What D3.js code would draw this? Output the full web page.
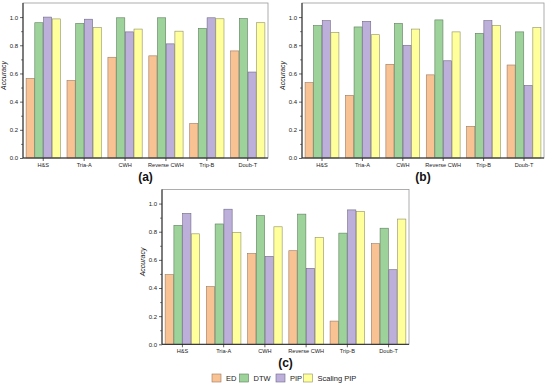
<!doctype html>
<html>
<head>
<meta charset="utf-8">
<script src="https://d3js.org/d3.v7.min.js"></script>
<style>
  body { margin: 0; background: #fff; }
  svg { display: block; font-family: 'Liberation Sans', Arial, sans-serif; }
</style>
</head>
<body>
<svg width="550" height="387"></svg>
<script>
  // categories and series
  var categories = ['H&S', 'Tria-A', 'CWH', 'Reverse CWH', 'Trip-B', 'Doub-T'];
  var methods = ['ED', 'DTW', 'PIP', 'Scaling PIP'];
  var yTicks = [0.0, 0.2, 0.4, 0.6, 0.8, 1.0];

  // panel (a)
  var edA = [0.565, 0.55, 0.715, 0.725, 0.245, 0.76];
  var dtwA = [0.96, 0.955, 0.995, 0.995, 0.92, 0.99];
  var pipA = [1.0, 0.985, 0.895, 0.81, 0.995, 0.61];
  var spA = [0.987, 0.925, 0.915, 0.90, 0.988, 0.96];

  // panel (b)
  var edB = [0.535, 0.445, 0.665, 0.59, 0.225, 0.66];
  var dtwB = [0.94, 0.93, 0.955, 0.98, 0.885, 0.895];
  var pipB = [0.975, 0.97, 0.80, 0.69, 0.975, 0.515];
  var spB = [0.89, 0.875, 0.915, 0.895, 0.94, 0.925];

  // panel (c)
  var edC = [0.495, 0.41, 0.645, 0.665, 0.165, 0.715];
  var dtwC = [0.845, 0.855, 0.915, 0.925, 0.79, 0.825];
  var pipC = [0.93, 0.96, 0.625, 0.54, 0.955, 0.53];
  var spC = [0.785, 0.795, 0.835, 0.76, 0.945, 0.89];

  var fills = {'ED': '#f9c293', 'DTW': '#9dd39b', 'PIP': '#bcb0da', 'Scaling PIP': '#ffff9c'};
  var strokes = {'ED': '#9a7a62', 'DTW': '#5f7d5e', 'PIP': '#6f6885', 'Scaling PIP': '#8f8f62'};

  var svg = d3.select('svg');

  function drawPanel(box, series, label) {
    var w = box.right - box.left,
        h = box.bottom - box.top;
    var g = svg.append('g').attr('transform', 'translate(' + box.left + ',' + box.top + ')');

    var x = d3.scaleBand().domain(categories).range([0, w]).paddingInner(0.15).paddingOuter(0.07);
    var xm = d3.scaleBand().domain(methods).range([0, x.bandwidth()]);
    var y = d3.scaleLinear().domain([0, 1.1]).range([h, 0]);

    var rows = categories.map(function(c, i) {
      return {cat: c, vals: methods.map(function(m, j) { return {m: m, v: series[j][i]}; })};
    });

    g.selectAll('.grp')
      .data(rows)
      .enter().append('g')
      .attr('transform', function(d) { return 'translate(' + x(d.cat) + ',0)'; })
      .selectAll('rect')
      .data(function(d) { return d.vals; })
      .enter().append('rect')
      .attr('x', function(d) { return xm(d.m) + 0.25; })
      .attr('y', function(d) { return y(d.v); })
      .attr('width', xm.bandwidth() - 0.5)
      .attr('height', function(d) { return h - y(d.v); })
      .attr('fill', function(d) { return fills[d.m]; })
      .attr('stroke', function(d) { return strokes[d.m]; })
      .attr('stroke-width', 0.6);

    // frame
    g.append('rect')
      .attr('width', w).attr('height', h)
      .attr('fill', 'none').attr('stroke', '#9a9a9a').attr('stroke-width', 0.8);

    // minor ticks on y
    g.append('g')
      .attr('class', 'minor')
      .call(d3.axisLeft(y).tickValues(d3.range(0.1, 1.1, 0.2)).tickSize(2).tickFormat(''))
      .call(function(a) { a.select('.domain').remove(); a.selectAll('line').attr('stroke', '#333').attr('stroke-width', 0.6); });

    var ya = g.append('g')
      .call(d3.axisLeft(y).tickValues(yTicks).tickSize(3).tickPadding(2).tickFormat(d3.format('.1f')));
    ya.select('.domain').attr('d', 'M0,0V' + h).attr('stroke', '#222').attr('stroke-width', 1);
    ya.selectAll('line').attr('stroke', '#222').attr('stroke-width', 0.7);
    ya.selectAll('text').attr('font-size', 6).attr('fill', '#222');

    var xa = g.append('g')
      .attr('transform', 'translate(0,' + h + ')')
      .call(d3.axisBottom(x).tickSize(3).tickPadding(2));
    xa.select('.domain').attr('d', 'M0,0H' + w).attr('stroke', '#222').attr('stroke-width', 1);
    xa.selectAll('line').attr('stroke', '#222').attr('stroke-width', 0.7);
    xa.selectAll('text').attr('font-size', 5.6).attr('fill', '#222');

    g.append('text')
      .attr('transform', 'rotate(-90)')
      .attr('x', -h / 2 + 5)
      .attr('y', -17)
      .attr('text-anchor', 'middle')
      .attr('font-size', 7)
      .attr('font-style', 'italic')
      .attr('fill', '#222')
      .text('Accuracy');

    svg.append('text')
      .attr('x', box.left + w / 2)
      .attr('y', box.bottom + 23)
      .attr('text-anchor', 'middle')
      .attr('font-size', 12)
      .attr('font-weight', 'bold')
      .attr('fill', '#111')
      .text(label);
  }

  drawPanel({left: 23, right: 268, top: 3, bottom: 158}, [edA, dtwA, pipA, spA], '(a)');
  drawPanel({left: 302, right: 544, top: 3, bottom: 158}, [edB, dtwB, pipB, spB], '(b)');
  drawPanel({left: 162, right: 409, top: 189.5, bottom: 344.3}, [edC, dtwC, pipC, spC], '(c)');

  // legend
  var legendX = {'ED': 212, 'DTW': 239.5, 'PIP': 276, 'Scaling PIP': 303.5};
  var legend = svg.append('g')
    .selectAll('g')
    .data(methods)
    .enter().append('g')
    .attr('transform', function(d) { return 'translate(' + legendX[d] + ',374)'; });

  legend.append('rect')
    .attr('width', 9).attr('height', 8)
    .attr('fill', function(d) { return fills[d]; })
    .attr('stroke', function(d) { return strokes[d]; })
    .attr('stroke-width', 0.6);

  legend.append('text')
    .attr('x', 14)
    .attr('y', 7)
    .attr('font-size', 7.5)
    .attr('fill', '#222')
    .text(function(d) { return d; });
</script>
</body>
</html>
